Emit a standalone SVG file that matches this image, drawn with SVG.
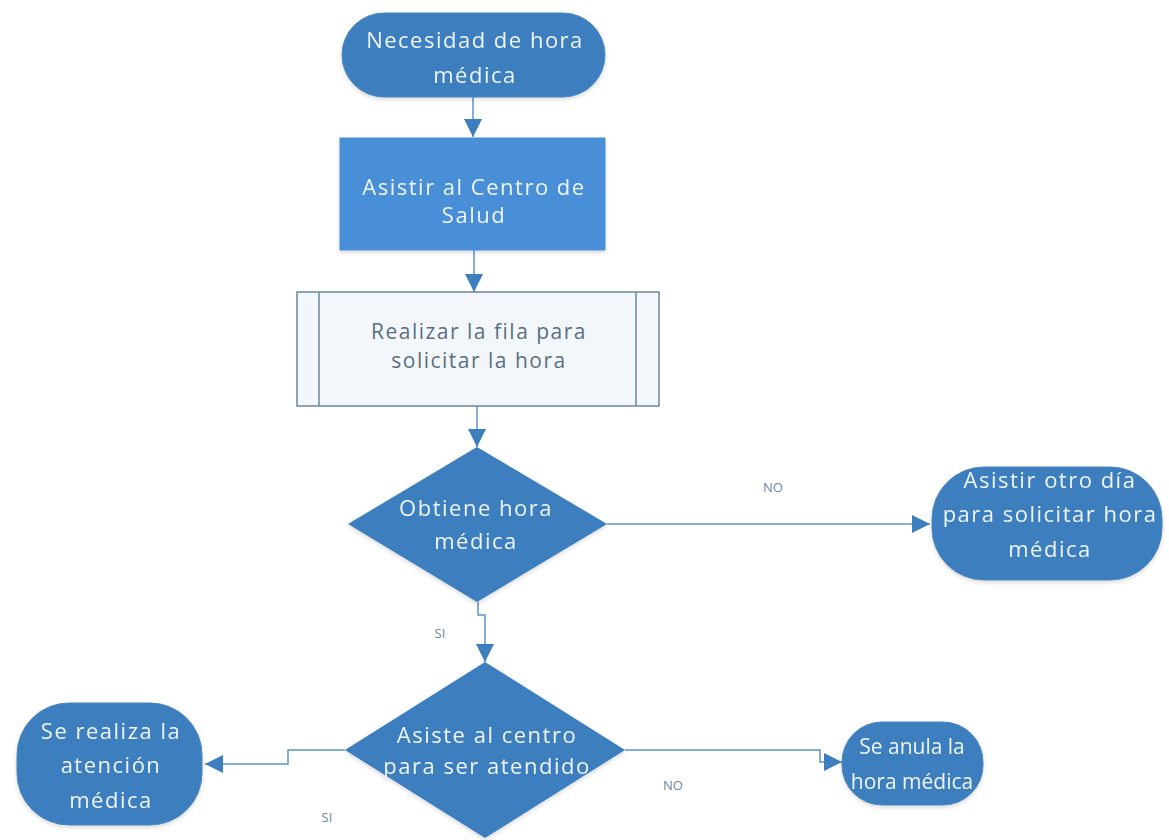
<svg xmlns="http://www.w3.org/2000/svg" width="1169" height="840" viewBox="0 0 1169 840">
  <style>
    .term { fill: #3d7ebf; stroke: #4a86c2; stroke-width: 1; }
    .proc { fill: #4a8fd8; stroke: #4a8fd8; stroke-width: 1; }
    .sub { fill: #f3f7fc; stroke: #6d8799; stroke-width: 1.5; }
    .dec { fill: #3d7ebf; }
    .lbl { font-family: "Open Sans", "Liberation Sans", sans-serif; font-size: 22px; fill: #eef5fc; text-anchor: middle; letter-spacing: 1.5px; }
    .lbl-dark { fill: #5b6f80; font-size: 21px; }
    .lbl-tight { font-size: 21px; letter-spacing: 0; }
    .edge { fill: none; stroke: #5a95cc; stroke-width: 1.5; }
    .elbl { font-family: "Open Sans", "Liberation Sans", sans-serif; font-size: 13px; fill: #6a87a3; text-anchor: middle; }
  </style>
  <defs>
    <marker id="arrow" viewBox="0 0 10 10" refX="10" refY="5" markerWidth="18" markerHeight="18" markerUnits="userSpaceOnUse" orient="auto">
      <path d="M0,0 L10,5 L0,10 z" fill="#3d7ebf"/>
    </marker>
    <filter id="shadow" x="-10%" y="-10%" width="120%" height="130%">
      <feDropShadow dx="0" dy="2" stdDeviation="2" flood-color="#000" flood-opacity="0.15"/>
    </filter>
  </defs>
  <rect width="1169" height="840" fill="#ffffff"/>

  <g id="connectors">
    <path class="edge" d="M473,97 V137" marker-end="url(#arrow)"/>
    <path class="edge" d="M474,250 V292" marker-end="url(#arrow)"/>
    <path class="edge" d="M477,406 V447" marker-end="url(#arrow)"/>
    <path class="edge" d="M607,524 H930" marker-end="url(#arrow)"/>
    <path class="edge" d="M478,602 V615 H485 V662" marker-end="url(#arrow)"/>
    <path class="edge" d="M345,750 H288 V764 H205" marker-end="url(#arrow)"/>
    <path class="edge" d="M625,750 H820 V762 H842" marker-end="url(#arrow)"/>
    <text class="elbl" x="773" y="492">NO</text>
    <text class="elbl" x="440" y="638">SI</text>
    <text class="elbl" x="327" y="822">SI</text>
    <text class="elbl" x="673" y="790">NO</text>
  </g>

  <g id="start" filter="url(#shadow)">
    <rect class="term" x="342" y="13" width="263" height="84" rx="42"/>
    <text class="lbl" x="475" y="48">Necesidad de hora</text>
    <text class="lbl" x="475" y="83">médica</text>
  </g>

  <g id="asistir" filter="url(#shadow)">
    <rect class="proc" x="340" y="138" width="265" height="112"/>
    <text class="lbl" x="474" y="195">Asistir al Centro de</text>
    <text class="lbl" x="474" y="223">Salud</text>
  </g>

  <g id="fila">
    <rect class="sub" x="297" y="292" width="362" height="114"/>
    <line class="sub" x1="319" y1="292" x2="319" y2="406"/>
    <line class="sub" x1="636" y1="292" x2="636" y2="406"/>
    <text class="lbl lbl-dark" x="479" y="339">Realizar la fila para</text>
    <text class="lbl lbl-dark" x="479" y="368">solicitar la hora</text>
  </g>

  <g id="obtiene" filter="url(#shadow)">
    <polygon class="dec" points="477,447 607,524 477,602 348,524"/>
    <text class="lbl" x="476" y="516">Obtiene hora</text>
    <text class="lbl" x="476" y="549">médica</text>
  </g>

  <g id="otro-dia" filter="url(#shadow)">
    <rect class="term" x="932" y="467" width="230" height="113" rx="52"/>
    <text class="lbl" x="1050" y="488">Asistir otro día</text>
    <text class="lbl" x="1050" y="522">para solicitar hora</text>
    <text class="lbl" x="1050" y="557">médica</text>
  </g>

  <g id="asiste" filter="url(#shadow)">
    <polygon class="dec" points="485,662 625,750 485,838 345,750"/>
    <text class="lbl" x="487" y="743">Asiste al centro</text>
    <text class="lbl" x="487" y="774">para ser atendido</text>
  </g>

  <g id="atencion" filter="url(#shadow)">
    <rect class="term" x="17" y="703" width="185" height="122" rx="52"/>
    <text class="lbl" x="111" y="739">Se realiza la</text>
    <text class="lbl" x="111" y="773">atención</text>
    <text class="lbl" x="111" y="808">médica</text>
  </g>

  <g id="anula" filter="url(#shadow)">
    <rect class="term" x="842" y="722" width="141" height="83" rx="40"/>
    <text class="lbl lbl-tight" x="912" y="754">Se anula la</text>
    <text class="lbl lbl-tight" x="912" y="789">hora médica</text>
  </g>
</svg>
